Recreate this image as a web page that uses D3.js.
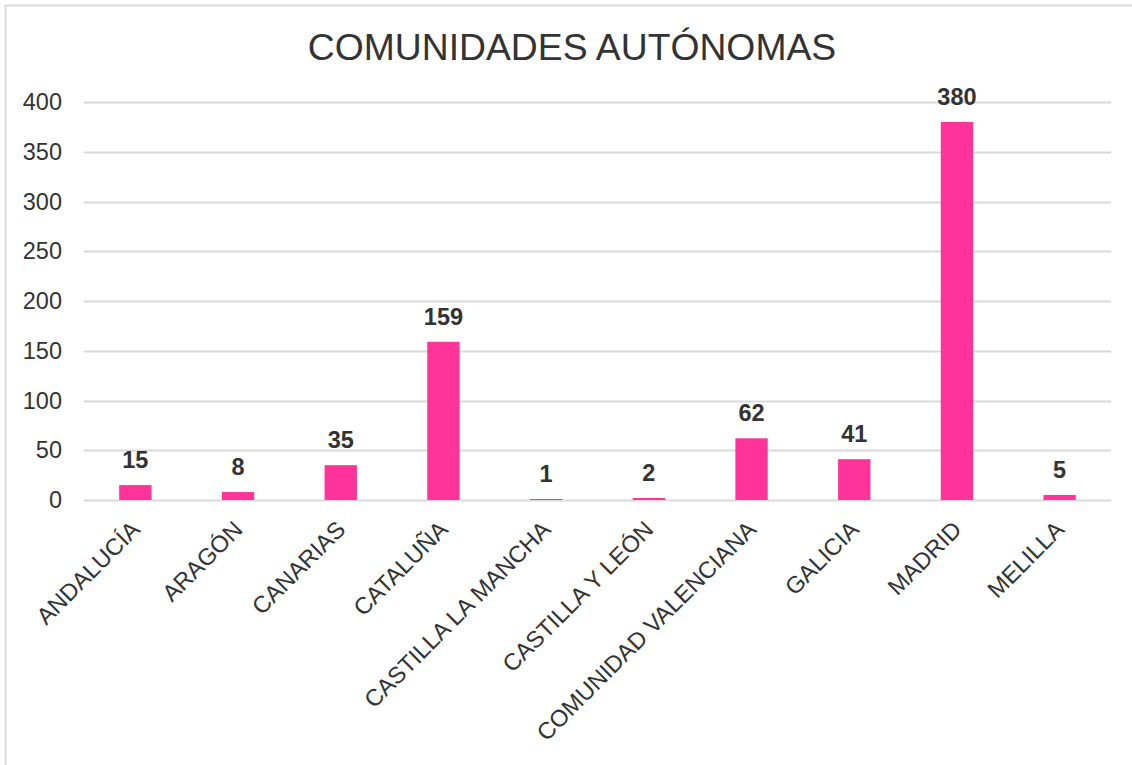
<!DOCTYPE html>
<html>
<head>
<meta charset="utf-8">
<script src="https://cdn.jsdelivr.net/npm/d3@7"></script>
<style>
  html, body { margin: 0; padding: 0; background: #fff; }
  svg { display: block; font-family: "Liberation Sans", Arial, sans-serif; }
</style>
</head>
<body>
<svg id="chart" width="1132" height="765"></svg>
<script>
// datos por comunidad autonoma
const CATEGORIES = ["ANDALUCÍA", "ARAGÓN", "CANARIAS", "CATALUÑA", "CASTILLA LA MANCHA",
  "CASTILLA Y LEÓN", "COMUNIDAD VALENCIANA", "GALICIA", "MADRID", "MELILLA"];
const VALUES = [15, 8, 35, 159, 1, 2, 62, 41, 380, 5];
const Y_TICKS = [0, 50, 100, 150, 200, 250, 300, 350, 400];
const TITLE = "COMUNIDADES AUTÓNOMAS";

const W = 1132, H = 765;
const PLOT = { left: 84, right: 1111, top: 102, bottom: 500 };
const BAR_COLOR = "#ff3399";
const GRID = "#d9d9d9";
const TEXT = "#333333";
const FONT = 23.5;

const svg = d3.select("#chart");

// marco exterior del grafico
svg.append("rect")
  .attr("x", 5.5).attr("y", 5.5)
  .attr("width", W + 20).attr("height", H + 20)
  .attr("fill", "none").attr("stroke", GRID).attr("stroke-width", 2);

svg.append("text")
  .attr("x", 572).attr("y", 60)
  .attr("text-anchor", "middle")
  .attr("fill", TEXT)
  .attr("font-size", 37.3)
  .text(TITLE);

const x = d3.scaleBand().domain(CATEGORIES).range([PLOT.left, PLOT.right]).paddingInner(0.685).paddingOuter(0.3425);
const y = d3.scaleLinear().domain([0, 400]).range([PLOT.bottom, PLOT.top]);

// lineas de cuadricula
svg.append("g")
  .selectAll("line")
  .data(Y_TICKS)
  .join("line")
  .attr("x1", PLOT.left).attr("x2", PLOT.right)
  .attr("y1", (d) => Math.round(y(d)) + 0.5).attr("y2", (d) => Math.round(y(d)) + 0.5)
  .attr("stroke", GRID).attr("stroke-width", 2);

const yAxis = svg.append("g")
  .attr("transform", `translate(${PLOT.left},0)`)
  .call(d3.axisLeft(y).tickValues(Y_TICKS).tickSize(0).tickPadding(22));
yAxis.select(".domain").remove();
yAxis.selectAll("text")
  .attr("fill", TEXT)
  .attr("font-size", FONT)
  .attr("font-family", "Liberation Sans, Arial, sans-serif");

svg.append("g")
  .selectAll("rect")
  .data(VALUES)
  .join("rect")
  .attr("x", (d, i) => x(CATEGORIES[i]))
  .attr("y", (d) => y(d))
  .attr("width", x.bandwidth())
  .attr("height", (d) => y(0) - y(d))
  .attr("fill", BAR_COLOR);

// etiquetas de valor
svg.append("g")
  .selectAll("text")
  .data(VALUES)
  .join("text")
  .attr("x", (d, i) => x(CATEGORIES[i]) + x.bandwidth() / 2)
  .attr("y", (d) => y(d) - 17)
  .attr("text-anchor", "middle")
  .attr("fill", TEXT)
  .attr("font-size", FONT)
  .attr("font-weight", 700)
  .text((d) => d);

// etiquetas de categoria giradas
svg.append("g")
  .selectAll("text")
  .data(CATEGORIES)
  .join("text")
  .attr("transform", (d) => `translate(${x(d) + x.bandwidth() / 2 + 6},531) rotate(-45)`)
  .attr("text-anchor", "end")
  .attr("fill", TEXT)
  .attr("font-size", FONT)
  .text((d) => d);
</script>
</body>
</html>
